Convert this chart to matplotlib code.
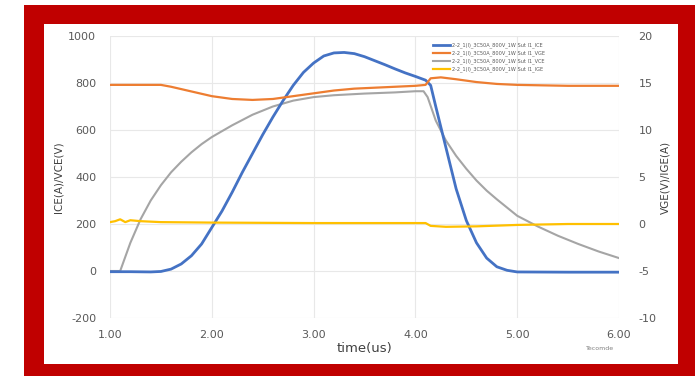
import matplotlib
matplotlib.use("Agg")
import matplotlib.pyplot as plt
from matplotlib.patches import Rectangle

plt.rcParams["axes.unicode_minus"] = False

# time axis (us) and read-off values
t_ice = [1.00, 1.20, 1.40, 1.50, 1.60, 1.70, 1.80, 1.90, 2.00, 2.10, 2.20, 2.30, 2.40,
         2.50, 2.60, 2.70, 2.80, 2.90, 3.00, 3.10, 3.20, 3.30, 3.40, 3.50, 3.60, 3.70,
         3.80, 3.90, 4.00, 4.10, 4.15, 4.20, 4.30, 4.40, 4.50, 4.60, 4.70, 4.80, 4.90,
         5.00, 5.50, 6.00]
ice = [-3, -3, -4, -2, 8, 30, 65, 115, 185, 255, 335, 420, 500,
       580, 655, 725, 790, 845, 885, 915, 928, 930, 925, 912, 895, 878,
       860, 843, 828, 812, 790, 700, 525, 350, 215, 120, 55, 18, 3,
       -4, -5, -5]

t_vce = [1.00, 1.10, 1.15, 1.20, 1.25, 1.30, 1.40, 1.50, 1.60, 1.70, 1.80, 1.90, 2.00,
         2.20, 2.40, 2.60, 2.80, 3.00, 3.20, 3.50, 3.80, 4.00, 4.08, 4.12, 4.20, 4.30,
         4.40, 4.50, 4.60, 4.70, 4.80, 5.00, 5.20, 5.40, 5.60, 5.80, 6.00]
vce = [0, 0, 60, 120, 170, 220, 300, 365, 420, 465, 505, 540, 570,
       620, 665, 700, 725, 740, 748, 755, 760, 765, 765, 740, 640, 555,
       490, 435, 385, 342, 305, 235, 190, 150, 115, 83, 55]

t_vge = [1.00, 1.30, 1.50, 1.60, 1.80, 2.00, 2.20, 2.40, 2.60, 2.80, 3.00, 3.20, 3.40,
         3.60, 3.80, 4.00, 4.10, 4.15, 4.25, 4.40, 4.60, 4.80, 5.00, 5.50, 6.00]
vge = [14.8, 14.8, 14.8, 14.6, 14.1, 13.6, 13.3, 13.2, 13.3, 13.6, 13.9, 14.2, 14.4,
       14.5, 14.6, 14.7, 14.8, 15.5, 15.6, 15.4, 15.1, 14.9, 14.8, 14.7, 14.7]

t_ige = [1.00, 1.05, 1.10, 1.15, 1.20, 1.30, 1.50, 2.00, 3.00, 4.00, 4.10, 4.15, 4.30,
         4.60, 5.00, 5.50, 6.00]
ige = [0.2, 0.3, 0.5, 0.2, 0.4, 0.3, 0.2, 0.15, 0.1, 0.1, 0.1, -0.2, -0.3,
       -0.25, -0.1, 0.0, 0.0]

name = "2-2_1(I)_3C50A_800V_1W Sut I1_"
labels = [name + "ICE", name + "VGE", name + "VCE", name + "IGE"]

x_ticks = [1, 2, 3, 4, 5, 6]
left_ticks = [-200, 0, 200, 400, 600, 800, 1000]
right_ticks = [-10, -5, 0, 5, 10, 15, 20]

tick_col = "#595959"
W, H = 700, 376

fig = plt.figure(figsize=(7, 3.76), dpi=100)

# red frame with white panel, on a background axes
bg = fig.add_axes([0, 0, 1, 1], zorder=-10)
bg.set_xlim(0, W)
bg.set_ylim(H, 0)
bg.axis("off")
bg.add_patch(Rectangle((24, 5), 671, 371, facecolor="#C00000", edgecolor="none"))
bg.add_patch(Rectangle((44, 24), 634, 340, facecolor="white", edgecolor="none"))

ax = fig.add_axes([110 / W, 1 - 318 / H, 509 / W, 282 / H])
ax.patch.set_alpha(0)
ax2 = ax.twinx()

l1, = ax.plot(t_ice, ice, color="#4472C4", lw=2.0, zorder=3)
l3, = ax.plot(t_vce, vce, color="#A5A5A5", lw=1.5, zorder=2)
l2, = ax2.plot(t_vge, vge, color="#ED7D31", lw=1.6)
l4, = ax2.plot(t_ige, ige, color="#FFC000", lw=1.6)

ax.set_xlim(1, 6)
ax.set_ylim(-200, 1000)
ax2.set_ylim(-10, 20)
ax.set_xticks(x_ticks)
ax.set_xticklabels(["%.2f" % v for v in x_ticks])
ax.set_yticks(left_ticks)
ax2.set_yticks(right_ticks)
ax.grid(True, color="#E8E8E8", lw=0.8)
ax.set_axisbelow(True)

for a in (ax, ax2):
    for s in a.spines.values():
        s.set_visible(False)
    a.tick_params(length=0, labelsize=8, labelcolor=tick_col)
ax.tick_params(axis="x", pad=9)
ax.tick_params(axis="y", pad=10)
ax2.tick_params(axis="y", pad=14)

ax.set_ylabel("ICE(A)/VCE(V)", fontsize=7.5, color="#404040", labelpad=3)
ax2.set_ylabel("VGE(V)/IGE(A)", fontsize=7.5, color="#404040", labelpad=3)
ax.set_xlabel("time(us)", fontsize=9.5, color="#404040", labelpad=1)

leg = ax2.legend([l1, l2, l3, l4], labels, loc="upper left",
                 bbox_to_anchor=(430 / W, 1 - 40 / H), bbox_transform=fig.transFigure,
                 fontsize=3.6, frameon=False, handlelength=3.5, handletextpad=0.4,
                 labelspacing=0.45, borderpad=0)
for txt in leg.get_texts():
    txt.set_color("#595959")

fig.text(600 / W, 1 - 349 / H, "Tecomde", fontsize=4.5, color="#808080", ha="center", va="center")

fig.savefig("out.png", dpi=100)
